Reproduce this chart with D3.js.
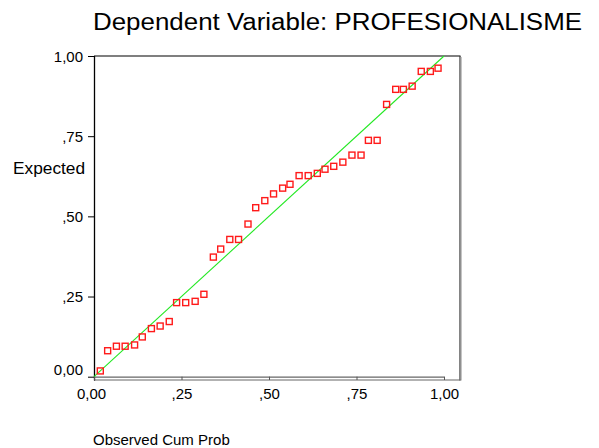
<!DOCTYPE html>
<html>
<head>
<meta charset="utf-8">
<script src="https://cdn.jsdelivr.net/npm/d3@7"></script>
<style>
  html, body { margin: 0; padding: 0; background: #fff; }
  svg { display: block; font-family: "Liberation Sans", Arial, sans-serif; }
</style>
</head>
<body>
<svg id="chart" width="599" height="448"></svg>
<script>
const titleText = "Dependent Variable: PROFESIONALISME";
const xLabel = "Observed Cum Prob";
const yLabel = "Expected";
const tickValues = [0, 0.25, 0.5, 0.75, 1];
const tickLabels = ["0,00", ",25", ",50", ",75", "1,00"];

const observed = [0.018, 0.039, 0.064, 0.089, 0.116, 0.138, 0.164, 0.189, 0.215, 0.236,
                  0.262, 0.289, 0.314, 0.341, 0.362, 0.388, 0.413, 0.440, 0.462, 0.488,
                  0.513, 0.539, 0.560, 0.586, 0.612, 0.638, 0.660, 0.685, 0.711, 0.737,
                  0.763, 0.784, 0.809, 0.836, 0.862, 0.884, 0.909, 0.935, 0.961, 0.983];
const expected = [0.018, 0.081, 0.095, 0.095, 0.099, 0.124, 0.150, 0.158, 0.172, 0.231,
                  0.231, 0.235, 0.257, 0.373, 0.398, 0.428, 0.428, 0.476, 0.527, 0.549,
                  0.570, 0.588, 0.600, 0.627, 0.627, 0.634, 0.647, 0.656, 0.669, 0.691,
                  0.691, 0.737, 0.737, 0.849, 0.896, 0.896, 0.906, 0.952, 0.952, 0.962];
const refLine = [[0, 0], [1, 1]];

const svg = d3.select("#chart");
const x = d3.scaleLinear().domain([0, 1]).range([94, 444]);
const y = d3.scaleLinear().domain([0, 1]).range([376.7, 56]);
const fmt = v => tickLabels[tickValues.indexOf(v)];

// frame: top, right, bottom
svg.append("line").attr("x1", 94).attr("x2", 460.5).attr("y1", 56).attr("y2", 56)
  .attr("stroke", "#000").attr("stroke-width", 1.2);
svg.append("line").attr("x1", 460).attr("x2", 460).attr("y1", 56).attr("y2", 380.5)
  .attr("stroke", "#333").attr("stroke-width", 1.2);
svg.append("line").attr("x1", 461.2).attr("x2", 461.2).attr("y1", 57).attr("y2", 380.5)
  .attr("stroke", "#aaa").attr("stroke-width", 1);
svg.append("line").attr("x1", 94).attr("x2", 460.5).attr("y1", 380).attr("y2", 380)
  .attr("stroke", "#666").attr("stroke-width", 1.2);

// y axis
const yAxis = svg.append("g").attr("transform", "translate(94,0)")
  .call(d3.axisLeft(y).tickValues(tickValues).tickFormat(fmt).tickSize(6).tickPadding(5));
yAxis.select(".domain").attr("d", "M0.5,56V380.5").attr("stroke", "#000").attr("stroke-width", 1.3);
yAxis.selectAll(".tick line").attr("stroke", "#000");
yAxis.selectAll(".tick text").attr("font-size", 15).attr("fill", "#000")
  .attr("font-family", "Liberation Sans, Arial, sans-serif").attr("dy", "0.36em")
  .attr("y", d => d === 0 ? -8 : 0);

// x axis
const xAxis = svg.append("g").attr("transform", "translate(0,376.7)")
  .call(d3.axisBottom(x).tickValues(tickValues).tickFormat(fmt).tickSize(3.3).tickPadding(8));
xAxis.select(".domain").attr("d", "M94,0.5H444.5").attr("stroke", "#666").attr("stroke-width", 1.2);
xAxis.selectAll(".tick line").attr("stroke", "#555");
xAxis.selectAll(".tick text").attr("font-size", 15).attr("fill", "#000")
  .attr("font-family", "Liberation Sans, Arial, sans-serif")
  .attr("x", d => d === 0 ? -3 : 0);

// reference line
svg.append("line")
  .attr("x1", x(refLine[0][0])).attr("y1", y(refLine[0][1]))
  .attr("x2", x(refLine[1][0])).attr("y2", y(refLine[1][1]))
  .attr("stroke", "#22e822").attr("stroke-width", 1.1);

// points
svg.append("g").selectAll("rect").data(observed).join("rect")
  .attr("x", (d, i) => x(d) - 3)
  .attr("y", (d, i) => y(expected[i]) - 3)
  .attr("width", 6).attr("height", 6)
  .attr("fill", "none").attr("stroke", "#ff1a1a").attr("stroke-width", 1.4);

// titles
svg.append("text").attr("x", 93).attr("y", 29.5).attr("font-size", 23)
  .attr("textLength", 489).attr("lengthAdjust", "spacingAndGlyphs")
  .attr("fill", "#000").text(titleText);
svg.append("text").attr("x", 13).attr("y", 174).attr("font-size", 17.3)
  .attr("fill", "#000").text(yLabel);
svg.append("text").attr("x", 93).attr("y", 445).attr("font-size", 15)
  .attr("fill", "#000").text(xLabel);
</script>
</body>
</html>
